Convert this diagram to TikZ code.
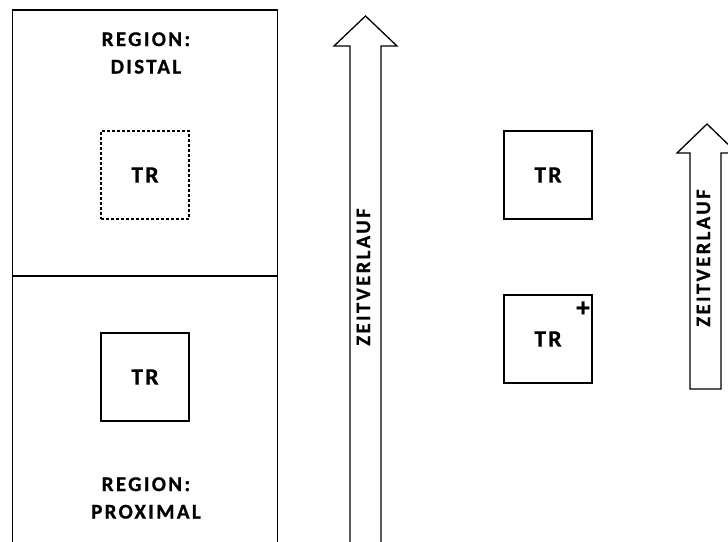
\documentclass[tikz,border=0pt]{standalone}
\usepackage{fontspec}
\setmainfont{Carlito}
\newfontfamily\spacedfont{Carlito Bold}[LetterSpace=11, FakeBold=0.8]
\newfontfamily\trfont{Carlito Bold}[LetterSpace=10, FakeBold=0.8]
\newfontfamily\zeitfont{Carlito Bold}[LetterSpace=12, FakeBold=0.8]
\begin{document}
\begin{tikzpicture}[x=1pt,y=-1pt,line width=1.3pt,
  lbl/.style={font=\spacedfont\fontsize{21}{27.5}\selectfont, align=center, inner sep=0pt},
  trbox/.style={draw, minimum size=88pt, inner sep=0pt, font=\trfont\fontsize{23.5}{24}\selectfont},
  zeit/.style={rotate=90, inner sep=0pt, font=\zeitfont\fontsize{20.5}{24}\selectfont}]
\useasboundingbox (0,0) rectangle (728,541);
\clip (0,0) rectangle (728,541);
% left column: the two regions
\draw[line width=1.8pt] (12.5,550) -- (12.5,10) -- (277.5,10) -- (277.5,550);
\draw[line width=1.8pt] (12.5,276) -- (277.5,276);
\node[lbl] (distal) at (146,53) {REGION:\\DISTAL};
\node[trbox, line width=1.1pt, dash pattern=on 3pt off 2pt] (trdist) at (145,175) {TR};
\node[trbox] (trprox) at (145,377) {TR};
\node[lbl] (proximal) at (146,498) {REGION:\\PROXIMAL};
% first time arrow
\draw (350,550) -- (350,46) -- (334,46) -- (365.5,16) -- (397,46) -- (381,46) -- (381,550);
\node[zeit] (zeitA) at (363.5,277) {ZEITVERLAUF};
% right column
\node[trbox] (trtop) at (548,175) {TR};
\node[trbox] (trbot) at (548,339) {TR};
\node[font=\trfont\fontsize{27}{27}\selectfont, inner sep=0pt] (plus) at (583,309) {+};
% second time arrow
\draw (690,389) -- (690,153) -- (677,153) -- (707,124) -- (737,153) -- (721,153) -- (721,389) -- cycle;
\node[zeit] (zeitB) at (703.5,258) {ZEITVERLAUF};
\end{tikzpicture}
\end{document}
